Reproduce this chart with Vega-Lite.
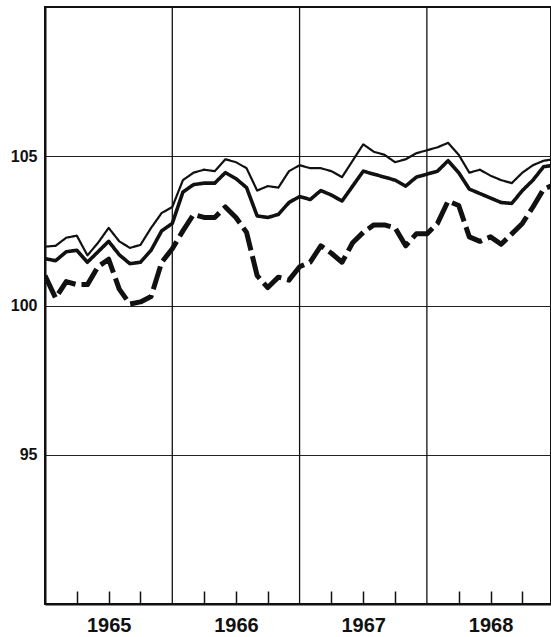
{
  "$schema": "https://vega.github.io/schema/vega-lite/v6.json",
  "width": 506,
  "height": 597,
  "autosize": "none",
  "padding": {"left": 45, "top": 7, "right": 0, "bottom": 33},
  "background": "white",
  "config": {"view": {"stroke": "#111", "strokeWidth": 2}},
  "data": {"values": [
    {"m": 0, "upper": 101.97, "mid": 101.57, "lower": 101.0},
    {"m": 1, "upper": 102.0, "mid": 101.5, "lower": 100.25},
    {"m": 2, "upper": 102.27, "mid": 101.8, "lower": 100.8},
    {"m": 3, "upper": 102.34, "mid": 101.85, "lower": 100.7},
    {"m": 4, "upper": 101.68, "mid": 101.45, "lower": 100.7},
    {"m": 5, "upper": 102.1, "mid": 101.8, "lower": 101.3},
    {"m": 6, "upper": 102.6, "mid": 102.15, "lower": 101.55},
    {"m": 7, "upper": 102.15, "mid": 101.7, "lower": 100.55},
    {"m": 8, "upper": 101.93, "mid": 101.4, "lower": 100.05},
    {"m": 9, "upper": 102.03, "mid": 101.45, "lower": 100.12},
    {"m": 10, "upper": 102.6, "mid": 101.85, "lower": 100.3},
    {"m": 11, "upper": 103.1, "mid": 102.5, "lower": 101.45},
    {"m": 12, "upper": 103.3, "mid": 102.75, "lower": 101.9},
    {"m": 13, "upper": 104.2, "mid": 103.8, "lower": 102.5},
    {"m": 14, "upper": 104.45, "mid": 104.05, "lower": 103.05},
    {"m": 15, "upper": 104.55, "mid": 104.1, "lower": 102.95},
    {"m": 16, "upper": 104.5, "mid": 104.1, "lower": 102.95},
    {"m": 17, "upper": 104.9, "mid": 104.45, "lower": 103.3},
    {"m": 18, "upper": 104.8, "mid": 104.25, "lower": 102.95},
    {"m": 19, "upper": 104.6, "mid": 103.95, "lower": 102.45},
    {"m": 20, "upper": 103.85, "mid": 103.0, "lower": 101.0},
    {"m": 21, "upper": 104.0, "mid": 102.95, "lower": 100.6},
    {"m": 22, "upper": 103.95, "mid": 103.05, "lower": 100.95},
    {"m": 23, "upper": 104.5, "mid": 103.45, "lower": 100.85},
    {"m": 24, "upper": 104.7, "mid": 103.65, "lower": 101.3},
    {"m": 25, "upper": 104.6, "mid": 103.55, "lower": 101.45},
    {"m": 26, "upper": 104.6, "mid": 103.85, "lower": 102.0},
    {"m": 27, "upper": 104.5, "mid": 103.7, "lower": 101.75},
    {"m": 28, "upper": 104.3, "mid": 103.5, "lower": 101.45},
    {"m": 29, "upper": 104.85, "mid": 104.0, "lower": 102.1},
    {"m": 30, "upper": 105.4, "mid": 104.5, "lower": 102.45},
    {"m": 31, "upper": 105.15, "mid": 104.4, "lower": 102.7},
    {"m": 32, "upper": 105.05, "mid": 104.3, "lower": 102.7},
    {"m": 33, "upper": 104.8, "mid": 104.2, "lower": 102.6},
    {"m": 34, "upper": 104.9, "mid": 104.0, "lower": 102.0},
    {"m": 35, "upper": 105.1, "mid": 104.3, "lower": 102.4},
    {"m": 36, "upper": 105.2, "mid": 104.4, "lower": 102.4},
    {"m": 37, "upper": 105.3, "mid": 104.5, "lower": 102.75},
    {"m": 38, "upper": 105.45, "mid": 104.85, "lower": 103.5},
    {"m": 39, "upper": 105.05, "mid": 104.45, "lower": 103.35},
    {"m": 40, "upper": 104.45, "mid": 103.9, "lower": 102.3},
    {"m": 41, "upper": 104.55, "mid": 103.75, "lower": 102.15},
    {"m": 42, "upper": 104.35, "mid": 103.6, "lower": 102.3},
    {"m": 43, "upper": 104.2, "mid": 103.45, "lower": 102.05},
    {"m": 44, "upper": 104.1, "mid": 103.42, "lower": 102.4},
    {"m": 45, "upper": 104.45, "mid": 103.85, "lower": 102.75},
    {"m": 46, "upper": 104.7, "mid": 104.2, "lower": 103.3},
    {"m": 47, "upper": 104.85, "mid": 104.65, "lower": 103.9},
    {"m": 48, "upper": 104.9, "mid": 104.7, "lower": 104.05}
  ]},
  "layer": [
    {
      "data": {"values": [{"m": 12}, {"m": 24}, {"m": 36}]},
      "mark": {"type": "rule", "color": "#111", "strokeWidth": 1.3},
      "encoding": {
        "x": {"field": "m", "type": "quantitative"}
      }
    },
    {
      "transform": [{"fold": ["upper", "mid", "lower"], "as": ["s", "v"]}],
      "mark": {"type": "line", "color": "#111", "clip": true, "strokeJoin": "round"},
      "encoding": {
        "x": {
          "field": "m", "type": "quantitative",
          "scale": {"domain": [0, 47.7], "nice": false, "zero": false},
          "axis": {
            "title": null,
            "values": [3, 6, 9, 15, 18, 21, 27, 30, 33, 39, 42, 45],
            "labelExpr": "datum.value % 12 == 6 ? toString(1965 + floor(datum.value / 12)) : ''",
            "grid": false,
            "ticks": true,
            "tickSize": -13,
            "tickWidth": 1.5,
            "tickColor": "#111",
            "domainColor": "#111",
            "domainWidth": 2,
            "labelFont": "Liberation Sans",
            "labelFontWeight": "bold",
            "labelFontSize": 20,
            "labelColor": "#111",
            "labelPadding": 24,
            "labelFlush": false,
            "labelOverlap": false
          }
        },
        "y": {
          "field": "v", "type": "quantitative",
          "scale": {"domain": [90, 110], "nice": false, "zero": false},
          "axis": {
            "title": null,
            "values": [95, 100, 105],
            "grid": true,
            "gridColor": "#222",
            "gridWidth": 1,
            "ticks": false,
            "domainColor": "#111",
            "domainWidth": 2,
            "labelFont": "Liberation Sans",
            "labelFontWeight": "bold",
            "labelFontSize": 16,
            "labelColor": "#111",
            "labelPadding": 8
          }
        },
        "detail": {"field": "s"},
        "strokeWidth": {"field": "s", "type": "nominal", "scale": {"domain": ["upper", "mid", "lower"], "range": [2.2, 5, 2.5]}, "legend": null},
        "strokeDash": {"field": "s", "type": "nominal", "scale": {"domain": ["upper", "mid", "lower"], "range": [[1, 0], [1, 0], [24, 6]]}, "legend": null}
      }
    }
  ]
}
